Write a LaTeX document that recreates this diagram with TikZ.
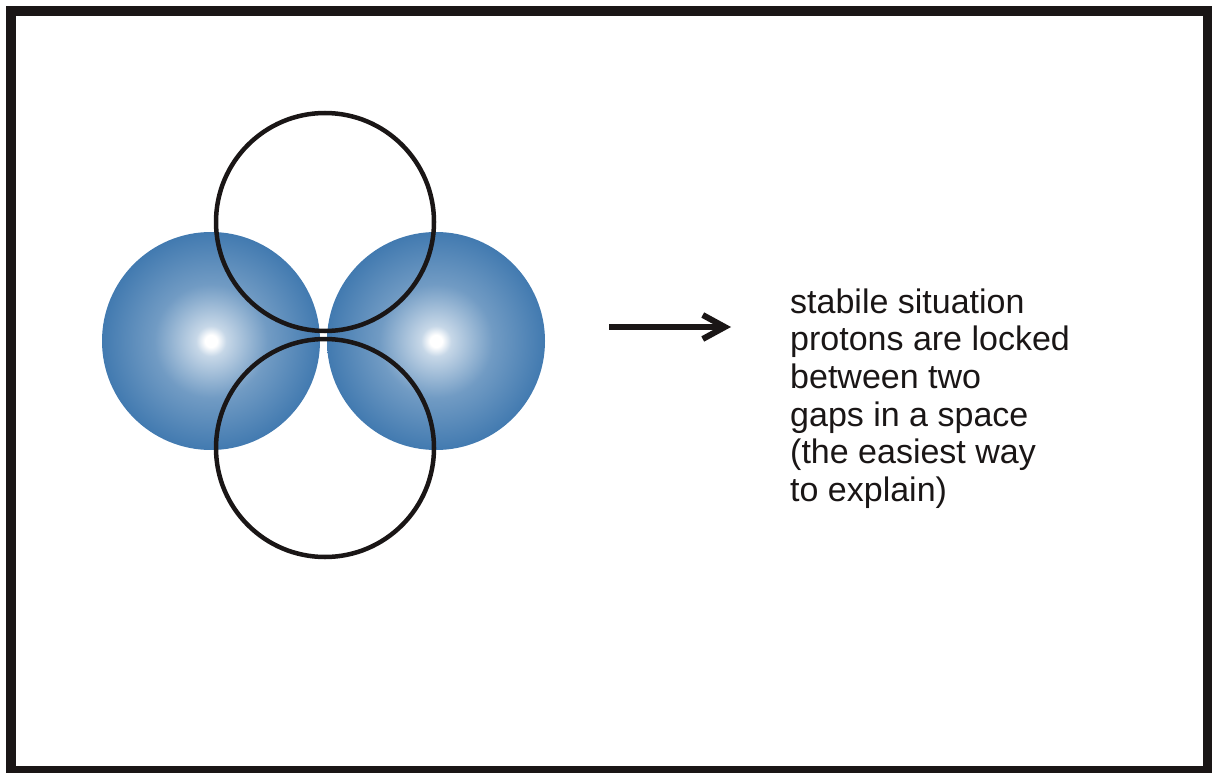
\documentclass[tikz,border=0pt]{standalone}
\usepackage{fontspec}
\setmainfont{Liberation Sans}
\usepackage{xcolor}
\definecolor{protonblue}{RGB}{66,122,176}
\definecolor{inkblack}{RGB}{26,22,22}
\usetikzlibrary{arrows.meta,positioning}
\pgfdeclareradialshading{protonshade}{\pgfpoint{0bp}{0bp}}{%
  color(0bp)=(white); color(1.4bp)=(white); color(3.5bp)=(protonblue!30);
  color(13bp)=(protonblue!75); color(25bp)=(protonblue); color(50bp)=(protonblue)}
\tikzset{
  proton/.style={circle,shading=protonshade,minimum size=218pt,inner sep=0pt},
  gap/.style={circle,draw=inkblack,line width=4.5pt,minimum size=218pt,inner sep=0pt},
  frame/.style={draw=inkblack,line width=10pt},
  push/.style={-{Straight Barb[length=22pt,width=24pt]},line width=6pt,draw=inkblack},
  note/.style={align=left,inner sep=0pt,text=inkblack,font=\fontsize{34}{37.6}\selectfont}
}

\begin{document}
\begin{tikzpicture}[x=1pt,y=-1pt]
  \useasboundingbox (0,0) rectangle (1212,773);
  \clip (0,0) rectangle (1212,773);
  \draw[frame] (11,11) rectangle (1207.5,771);

  % the two protons
  \node[proton] (pl) at (211,341) {};
  \node[proton] (pr) at (436,341) {};

  % the two gaps above and below
  \node[gap] (gtop) at (325,222) {};
  \node[gap] (gbot) at (325,448) {};

  % arrow to the explanation
  \coordinate (from) at (609,327);
  \coordinate (to) at (731,327);
  \draw[push] (from) -- (to);

  \node[note,anchor=north west] (expl) at (790,288.5) {stabile situation\\
    protons are locked\\
    between two\\
    gaps in a space\\
    (the easiest way\\
    to explain)};
\end{tikzpicture}
\end{document}
